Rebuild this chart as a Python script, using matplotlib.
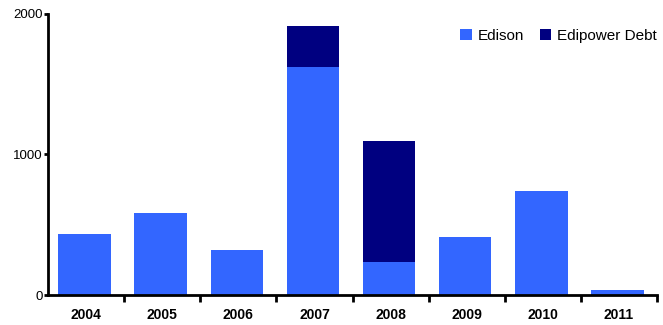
import numpy as np
import matplotlib.pyplot as plt

plt.rcParams['font.family'] = ['Liberation Sans', 'DejaVu Sans']

# Данные
years = ['2004', '2005', '2006', '2007', '2008', '2009', '2010', '2011']
edison = [434, 584, 320, 1623, 235, 413, 740, 36]
edipower_debt = [0, 0, 0, 292, 861, 0, 0, 0]

fig = plt.figure(figsize=(6.63, 3.25), dpi=100)
ax = fig.add_axes([0.0724, 0.0923, 0.9186, 0.8647])

x = np.arange(len(years))
xb = x - 0.02  # бары чуть левее центра, как в оригинале
ax.bar(xb, edison, width=0.69, color='#3366ff', label='Edison')
ax.bar(xb, edipower_debt, width=0.69, bottom=edison, color='#000080', label='Edipower Debt')

ax.set_xlim(-0.5, len(years) - 0.5)
ax.set_ylim(0, 2000)

# оси
for side in ['top', 'right']:
    ax.spines[side].set_visible(False)
for side in ['left', 'bottom']:
    ax.spines[side].set_linewidth(2)

ax.set_yticks([0, 1000, 2000])
ax.tick_params(axis='y', length=3, width=2, labelsize=9.5, pad=1)

ax.set_xticks(x)
ax.set_xticklabels(years, fontsize=10, fontweight='bold')
ax.tick_params(axis='x', length=0, pad=9)
ax.set_xticks(np.arange(len(years)) + 0.5, minor=True)
ax.tick_params(axis='x', which='minor', length=5, width=2, direction='out')

ax.legend(loc='upper right', ncol=2, frameon=False, fontsize=11,
          handlelength=0.75, handleheight=0.75, handletextpad=0.4,
          columnspacing=1.0, bbox_to_anchor=(1.01, 0.97), borderaxespad=0)

plt.savefig('out.png', dpi=100)
plt.close()
